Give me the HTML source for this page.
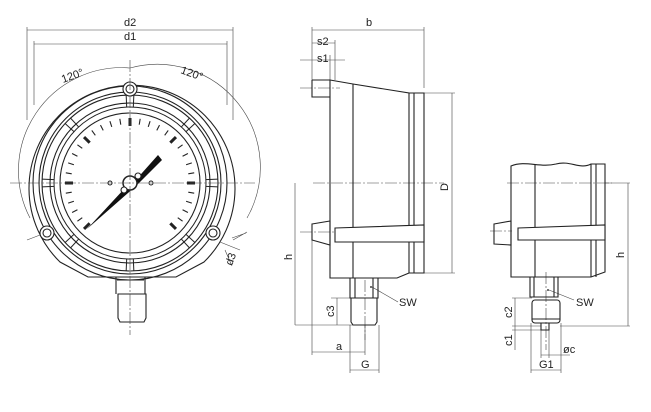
<!DOCTYPE html>
<html><head><meta charset="utf-8"><style>
html,body{margin:0;padding:0;background:#fff;width:651px;height:412px;overflow:hidden}
svg{display:block}
text{font-family:"Liberation Sans",sans-serif;font-size:11px;fill:#222}
</style></head><body>
<svg id="s" width="651" height="412" viewBox="0 0 651 412" xmlns="http://www.w3.org/2000/svg">
<g fill="none" stroke="#222" stroke-width="1.1">
<!-- FRONT VIEW -->
<path d="M60,262 A103,103 0 1 1 204,262 L176,277 L88,277 Z"/>
<circle cx="130" cy="183" r="97"/>
<circle cx="130" cy="183" r="91"/>
<circle cx="130" cy="183" r="88"/>
<circle cx="130" cy="183" r="80"/>
<circle cx="130" cy="183" r="70"/>
<g id="segs" stroke-width="1"></g>
<circle cx="130" cy="89" r="7" fill="#fff"/><circle cx="130" cy="89" r="4"/>
<circle cx="47" cy="233" r="7" fill="#fff"/><circle cx="47" cy="233" r="4"/>
<circle cx="213" cy="233" r="7" fill="#fff"/><circle cx="213" cy="233" r="4"/>
<g id="ticks"></g>
<path d="M116,277 V294 M145,277 V294 M117,280 h27"/>
<path d="M118,294 H146 V318 L144,322 H120 L118,318 Z"/>
<!-- needle -->
<path d="M87,229 L125,188 L134,182 L158,155 L162,160 L137,185 L128,193 Z" fill="#111" stroke="none"/>
<circle cx="130" cy="183" r="7" fill="#fff" stroke-width="1.5"/>
<circle cx="138" cy="176" r="3" fill="#fff"/>
<circle cx="124" cy="190" r="3" fill="#fff"/>
<circle cx="110" cy="183" r="2"/><circle cx="151" cy="183" r="2"/>
</g>
<g fill="none" stroke="#444" stroke-width="0.6" stroke-dasharray="12,2,2,2">
<path d="M10,183 H255 M130,60 V335"/>
<path d="M313,183 H444 M300,88 H340 M300,232 H338 M365,280 V340"/>
<path d="M507,183 H612 M490,231 H512 M546,272 V350"/>
</g>
<g fill="none" stroke="#444" stroke-width="0.6">
<!-- front dims -->
<path d="M27,27 V120 M233,27 V120 M27,30 H233 M34,41 V105 M227,41 V105 M34,44 H227"/>
<path d="M30,218 A103,103 0 0 1 130,68 A103,103 0 0 1 247,218"/>
<path d="M27,240 L40,235 M233,240 L247,232 M220,242 L240,250 M232,238 L246,233 M225,250 L232,266"/>
<!-- side dims -->
<path d="M312,27 V80 M424,27 V88 M312,30 H424 M312,43 H335 M335,40 V80 M300,60 H345 M330,55 V80"/>
<path d="M424,93 H455 M424,273 H455 M452,93 V273"/>
<path d="M295,183 V325 M295,325 H365 M337,298 V325 M331,298 H350 M312,230 V355 M312,352 H365 M365,325 V355 M350,325 V373 M379,325 V373 M350,370 H379 M372,287 L398,302"/>
<!-- right dims -->
<path d="M605,183 H630 M628,183 V326 M560,326 H630 M515,298 V350 M512,298 H532 M512,326 H541 M512,330 H541 M541,330 V358 M549,330 V358 M541,355 H570 M531,323 V373 M561,323 V373 M531,370 H561 M549,290 L574,300"/>
</g>
<g fill="none" stroke="#222" stroke-width="1.1">
<!-- SIDE VIEW -->
<path d="M312,80 H330 M312,80 V97 H330"/>
<path d="M330,80 L353,84 L409,93 V273 L397,278 H330 Z"/>
<path d="M353,84 V278"/>
<path d="M409,93 H424 V273 H409 M414,93 V273"/>
<path d="M335,228 L424,225 V242 L335,242 Z" fill="#fff"/>
<path d="M312,224 L330,221 V245 L312,240 Z"/>
<path d="M350,278 V298 H378 V278 M355,278 V298 M373,278 V298"/>
<path d="M351,298 V322 L353,325 H375 L377,322 V298"/>
<!-- RIGHT VIEW -->
<path d="M511,166 C525,160 540,168 556,164 C570,160 580,170 591,164 L605,164 V272 L591,277 H511 Z"/>
<path d="M535,165 V277 M591,164 V277 M596,164 V277"/>
<path d="M518,228 L605,225 V240 L518,240 Z" fill="#fff"/>
<path d="M494,224 L511,221 V245 L494,244 Z"/>
<path d="M530,277 V297 H558 V277 M534,277 V297 M554,277 V297"/>
<rect x="532" y="300" width="28" height="23" rx="3"/>
<path d="M532,319 H560 M541,323 V330 H549 V323"/>
</g>
<g fill="#444"><circle cx="371" cy="287" r="1"/><circle cx="548" cy="290" r="1"/></g>
<text x="124" y="26">d2</text><text x="124" y="40">d1</text>
<text x="63" y="83" transform="rotate(-20 63 83)">120°</text>
<text x="180" y="73" transform="rotate(20 180 73)">120°</text>
<text x="232" y="266" transform="rotate(-70 232 266)">d3</text>
<text x="366" y="26">b</text><text x="317" y="45">s2</text><text x="317" y="62">s1</text>
<text x="444" y="187" transform="rotate(-90 448 187)">D</text>
<text x="292" y="260" transform="rotate(-90 292 260)">h</text>
<text x="334" y="317" transform="rotate(-90 334 317)">c3</text>
<text x="399" y="306">SW</text><text x="336" y="350">a</text><text x="361" y="368">G</text>
<text x="576" y="306">SW</text>
<text x="624" y="258" transform="rotate(-90 624 258)">h</text>
<text x="512" y="318" transform="rotate(-90 512 318)">c2</text>
<text x="512" y="346" transform="rotate(-90 512 346)">c1</text>
<text x="563" y="353">øc</text><text x="539" y="368">G1</text>
</svg>
<script>
var ns="http://www.w3.org/2000/svg",cx=130,cy=183,t=document.getElementById("ticks");
for(var i=0;i<=30;i++){var a=(-135+i*9)*Math.PI/180,maj=i%5==0;
var r1=maj?57:59,r2=65,l=document.createElementNS(ns,"line");
l.setAttribute("x1",cx+r1*Math.sin(a));l.setAttribute("y1",cy-r1*Math.cos(a));
l.setAttribute("x2",cx+r2*Math.sin(a));l.setAttribute("y2",cy-r2*Math.cos(a));
l.setAttribute("stroke-width",maj?3:1.1);t.appendChild(l);}
var g=document.getElementById("segs");
for(var k=0;k<8;k++){var b=k*45*Math.PI/180;
for(var s=-1;s<=1;s+=2){var c=b+s*2.5*Math.PI/180,l2=document.createElementNS(ns,"line");
l2.setAttribute("x1",cx+76*Math.sin(c));l2.setAttribute("y1",cy-76*Math.cos(c));
l2.setAttribute("x2",cx+88*Math.sin(c));l2.setAttribute("y2",cy-88*Math.cos(c));g.appendChild(l2);}}
var c3=document.createElementNS(ns,"circle");c3.setAttribute("cx",cx);c3.setAttribute("cy",cy);c3.setAttribute("r",76);g.appendChild(c3);
</script>
</body></html>
